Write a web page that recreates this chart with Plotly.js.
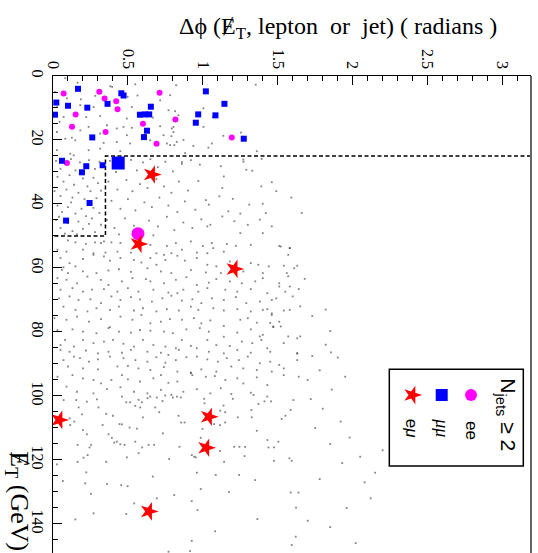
<!DOCTYPE html>
<html>
<head>
<meta charset="utf-8">
<script src="https://cdn.plot.ly/plotly-3.0.1.min.js"></script>
<style>html,body{margin:0;padding:0;background:#fff;}#chart{width:538px;height:553px;}</style>
</head>
<body>
<div id="chart"></div>
<script>
// ---- Data: delta-phi (radians) vs missing ET (GeV) ----
// Selected candidate events
var eeDphi = [0.071,0.309,0.344,0.422,0.431,0.711,0.151,0.127,0.351,0.600,0.817,0.691,0.093,1.193];
var eeMet  = [5.5,4.9,7.0,7.9,10.4,5.2,12.0,15.9,17.5,14.9,13.6,21.2,27.2,19.2];
var mumuDphi = [0.167,0.022,0.013,0.100,0.229,0.364,0.456,0.471,0.653,0.580,0.613,0.642,0.627,0.607,0.262,1.020,1.144,0.969,1.084,0.953,1.273,0.060,0.222,0.193,0.331,0.244,0.087];
var mumuMet  = [4.0,8.3,12.1,9.3,9.9,8.7,5.4,6.1,9.6,12.1,12.0,12.0,17.1,19.1,19.2,4.8,8.7,12.0,12.3,14.6,19.6,26.5,28.2,30.1,27.9,39.7,45.2];
var emuDphi = [0.660,0.571,1.211,0.042,1.040,1.022,0.640];
var emuMet  = [30.8,52.5,60.3,107.5,106.5,116.2,136.1];
// highlighted events (large markers)
var eeBigDphi = [0.567], eeBigMet = [49.3];
var mumuBigDphi = [0.435], mumuBigMet = [27.2];
// cut boundaries
var cutMetLow = 25, cutMetHigh = 50, cutDphi = 0.35;
// axis ticks
var dphiTicks = [0,0.5,1,1.5,2,2.5,3];
var dphiTickText = ['0','0.5','1','1.5','2','2.5','3'];
var metTicks = [0,20,40,60,80,100,120,140];
var metTickText = ['0','20','40','60','80','100','120','140'];

// Expected background (small dots), [dphi, MET]
var bgLowMet = [[0.082,0.7],[0.164,2.1],[0.382,3.2],[0.395,3.4],[0.549,2.6],[0.822,2.9],[0.015,5.0],[0.093,7.0],[0.186,7.3],[0.282,6.2],[0.498,6.5],[0.564,6.1],[0.715,7.6],[0.782,6.0],[0.026,9.7],[0.182,9.1],[0.271,9.7],[0.526,9.7],[0.771,10.7],[0.815,11.0],[0.071,12.8],[0.222,12.8],[0.315,12.5],[0.493,13.3],[0.666,13.0],[0.044,14.3],[0.238,15.9],[0.360,15.4],[0.426,16.4],[0.471,15.9],[0.526,16.2],[0.715,15.7],[0.793,16.4],[0.026,17.5],[0.182,17.0],[0.315,18.0],[0.493,18.5],[0.738,18.5],[0.804,17.5],[0.082,19.6],[0.126,19.3],[0.149,20.1],[0.338,20.9],[0.426,20.6],[0.515,21.1],[0.649,20.1],[0.760,21.1],[0.826,20.6],[0.026,23.2],[0.115,24.3],[0.138,24.8],[0.238,23.2],[0.315,22.7],[0.449,23.5],[0.782,21.6],[1.353,2.7],[1.004,10.1],[0.837,12.3],[1.067,12.8],[1.004,15.9],[0.804,15.9],[0.79,18.8],[0.871,20.0],[0.81,21.6],[1.06,21.1],[1.137,18.7],[1.255,17.7],[0.937,21.9],[1.037,22.4],[0.882,24.1],[1.36,23.5]];
var bgMidMet = [[0.02,26.5],[0.05,29],[0.08,27.5],[0.12,26],[0.15,29.5],[0.18,27],[0.24,26.3],[0.28,29],[0.31,26.8],[0.03,31.5],[0.07,33],[0.11,31],[0.14,34],[0.2,32],[0.23,34.5],[0.27,31.8],[0.3,33.5],[0.01,36],[0.05,37.5],[0.09,35.5],[0.13,38],[0.17,36.5],[0.21,38.5],[0.25,36],[0.29,38.2],[0.32,35.8],[0.03,40.5],[0.06,42.5],[0.1,41],[0.15,43],[0.19,41.5],[0.22,43.8],[0.27,41.2],[0.31,42.8],[0.02,45],[0.05,47.5],[0.1,46],[0.13,48.5],[0.17,45.5],[0.2,47.8],[0.24,46.2],[0.28,48.8],[0.32,46.5],[0.08,49.3],[0.16,49.5],[0.26,44.5],[0.12,39.5],[0.04,44],
[0.38,26.5],[0.42,30],[0.47,27.8],[0.52,26.2],[0.56,29.5],[0.6,27],[0.65,26],[0.7,28.5],[0.75,26.8],[0.8,29.8],[0.86,27.5],[0.92,26.3],[0.37,33],[0.43,35.5],[0.49,32.5],[0.53,36],[0.58,33.8],[0.63,35],[0.69,32.2],[0.74,34.5],[0.79,36.5],[0.84,33],[0.9,35.8],[0.97,32.8],[0.39,39],[0.45,41.5],[0.5,38.5],[0.55,42],[0.61,39.5],[0.66,41],[0.71,38],[0.77,40.5],[0.83,42.5],[0.88,39.2],[0.95,41.8],[1.02,38.8],[0.36,45],[0.41,47.5],[0.48,44.5],[0.54,46.8],[0.59,48.5],[0.64,45.2],[0.7,47],[0.76,44],[0.81,48.2],[0.87,45.8],[0.93,47.5],[0.99,44.8],[1.05,46.5],[0.44,49.5],[0.67,49.8],
[0.98,27.7],[1.12,28.2],[1.27,26.1],[1.29,29.3],[1.33,29.6],[1.14,31.4],[1.39,34.5],[1.46,33.2],[1.49,36],[1.59,38],[1.66,42.8],[1.31,40.2],[1.4,39.9],[1.42,42.8],[1.25,43],[1.17,42.3],[1.21,45.4],[1.3,46.5],[1.38,44.9],[1.46,47],[1.4,49.1],[1.25,49.1],[1.13,43.9],[1.11,37.6],[1.2,38.4],[1.13,35],[1.04,40.2],[1.03,47],[0.86,26.9],[1.271,26.8],[1.393,25.9]];
var bgHighMet = [[0.10,51.4],[0.15,52.0],[0.22,52.5],[0.28,52.0],[0.32,52.2],[0.34,51.7],[0.39,52.0],[0.45,52.2],[0.65,52.8],[0.76,53.1],[0.82,52.2],[0.92,51.7],[1.00,53.1],[1.06,52.2],[1.16,52.5],[1.22,53.1],[1.32,52.8],[1.51,53.1],[1.58,53.8],[0.03,54.3],[0.09,54.9],[0.20,54.3],[0.27,55.4],[0.35,55.2],[0.43,54.9],[0.52,55.2],[0.69,55.4],[0.74,55.9],[0.79,55.4],[0.86,54.3],[0.96,55.2],[1.03,55.4],[1.14,54.9],[1.57,55.9],
[0.05,56.9],[0.11,58.5],[0.15,59.5],[0.20,57.2],[0.27,55.9],[0.34,56.4],[0.38,57.7],[0.45,56.9],[0.54,57.5],[0.59,58.3],[0.65,56.9],[0.69,59.0],[0.75,57.5],[0.83,56.2],[0.88,57.7],[0.96,56.9],[1.03,59.0],[1.09,59.5],[1.18,58.0],[1.32,58.5],[1.37,59.0],[1.44,59.5],[1.54,59.3],[1.61,60.1],[0.06,60.6],[0.10,61.6],[0.20,61.1],[0.29,61.6],[0.37,60.8],[0.44,60.4],[0.52,61.2],[0.63,60.1],[0.72,61.1],[0.79,61.6],[0.92,60.6],[1.02,61.4],[1.12,61.6],[1.27,61.1],[1.40,61.6],[1.56,61.6],[0.07,59.8],
[0.03,63.2],[0.09,63.7],[0.16,64.8],[0.23,62.7],[0.32,63.7],[0.37,65.3],[0.46,64.2],[0.53,63.2],[0.62,63.5],[0.65,64.2],[0.74,64.8],[0.82,63.7],[0.89,62.9],[0.96,65.3],[1.04,64.6],[1.09,63.5],[1.18,64.2],[1.26,64.8],[1.35,64.2],[1.40,63.2],[1.51,64.8],[1.58,65.8],[0.05,66.8],[0.13,66.3],[0.20,67.4],[0.26,66.8],[0.34,66.6],[0.43,67.4],[0.50,66.3],[0.57,67.4],[0.67,66.8],[0.77,67.7],[0.83,67.9],[0.87,66.8],[0.97,67.4],[1.03,66.3],[1.15,66.8],[1.23,67.4],[1.32,66.6],[1.43,67.9],[1.55,67.4],[1.64,66.6],
[0.04,69.5],[0.11,68.9],[0.17,70.0],[0.25,69.8],[0.32,71.0],[0.39,68.9],[0.45,70.0],[0.52,69.1],[0.58,69.8],[0.66,70.5],[0.73,69.5],[0.79,68.7],[0.86,70.2],[0.93,69.8],[0.99,71.0],[1.06,69.5],[1.14,70.0],[1.22,69.1],[1.29,71.0],[1.38,70.5],[1.49,69.5],[1.60,68.9],[0.07,72.1],[0.15,73.1],[0.23,73.6],[0.29,72.6],[0.38,73.1],[0.44,72.1],[0.54,73.3],[0.60,72.6],[0.69,73.6],[0.76,72.9],[0.84,73.3],[0.92,72.1],[0.97,73.1],[1.07,72.6],[1.14,73.3],[1.23,72.9],[1.32,73.6],[1.40,73.1],[1.46,74.2],[1.54,73.3],
[0.01,75.7],[0.09,76.2],[0.16,75.2],[0.24,76.8],[0.32,76.0],[0.38,78.5],[0.45,75.2],[0.53,76.2],[0.59,74.7],[0.65,77.3],[0.72,76.8],[0.78,76.0],[0.86,76.2],[0.94,75.7],[0.99,77.3],[1.05,76.4],[1.14,78.1],[1.25,76.2],[1.30,75.7],[1.36,77.1],[1.46,74.7],[1.51,76.8],[0.03,79.4],[0.13,79.2],[0.20,79.9],[0.29,80.4],[0.37,78.8],[0.44,79.9],[0.52,80.2],[0.58,79.4],[0.65,79.6],[0.74,79.9],[0.80,80.4],[0.89,79.2],[0.98,78.8],[1.04,79.9],[1.14,81.5],[1.23,80.2],[1.32,79.2],[1.40,80.9],[1.47,78.5],[1.63,82.0],
[0.05,84.1],[0.08,82.5],[0.14,84.6],[0.20,82.5],[0.27,83.5],[0.34,83.0],[0.40,82.5],[0.47,83.7],[0.54,84.6],[0.60,82.5],[0.67,84.1],[0.75,84.6],[0.82,85.1],[0.86,82.5],[0.92,84.4],[0.96,85.1],[1.03,82.5],[1.09,84.1],[1.18,84.4],[1.26,83.0],[1.33,83.5],[1.39,82.5],[1.43,85.1],[1.54,83.5],[0.05,85.6],[0.11,86.2],[0.22,85.8],[0.30,86.7],[0.37,86.2],[0.46,86.5],[0.52,85.6],[0.63,86.2],[0.72,86.5],[0.77,87.2],[0.84,85.6],[1.04,86.2],[1.14,86.7],[1.23,85.6],[1.32,86.5],[1.45,86.2],[1.63,86.7],
[0.07,88.8],[0.14,87.7],[0.18,88.2],[0.24,89.3],[0.30,88.6],[0.38,87.7],[0.47,88.2],[0.55,88.8],[0.63,89.3],[0.69,87.9],[0.75,89.6],[0.82,88.8],[0.89,87.9],[0.96,87.7],[1.03,88.6],[1.10,89.3],[1.16,88.2],[1.24,88.8],[1.30,87.7],[1.38,89.8],[1.45,89.3],[1.51,90.3],[1.63,88.8],[0.10,90.8],[0.20,91.4],[0.30,91.7],[0.43,90.8],[0.50,90.6],[0.57,91.4],[0.65,91.9],[0.74,91.0],[0.83,92.4],[0.92,92.7],[0.99,91.7],[1.09,92.4],[1.19,90.8],[1.27,91.4],[1.36,91.9],[1.46,92.4],[1.54,91.4],
[0.03,94.0],[0.13,93.5],[0.20,94.5],[0.27,95.0],[0.32,96.1],[0.39,95.0],[0.46,93.5],[0.50,94.8],[0.58,95.5],[0.67,94.5],[0.72,93.5],[0.77,95.9],[0.83,95.5],[0.92,92.9],[0.93,93.5],[1.02,94.0],[1.08,93.8],[1.15,95.0],[1.23,94.5],[1.27,96.1],[1.36,94.2],[1.43,96.6],[1.54,93.5],[1.64,94.0],[0.09,97.1],[0.16,98.7],[0.27,99.2],[0.36,97.9],[0.45,97.3],[0.54,98.7],[0.63,99.2],[0.72,98.1],[0.79,99.7],[0.87,98.7],[0.96,97.9],[1.05,99.2],[1.12,97.6],[1.19,99.4],[1.32,99.0],[1.43,100.2],
[1.07,53.8],[1.52,53.3],[1.58,53.8],[1.63,59.3],[1.68,63.4],[1.57,62.6],[1.82,73],[1.73,75],[1.85,79.7],[1.855,86.4],[1.73,87.5],[1.63,86.7],[1.65,81.4],[1.57,81.4],[1.52,78.3],[1.47,78.3],[1.38,81.4],[1.46,70],[1.51,65.8],[1.65,72],[1.58,73.1],[1.43,72.9],[1.45,77.2]];
var bgTailMet = [[0.071,101.3],[0.155,101.3],[0.226,101.8],[0.293,101.1],[0.46,100.2],[0.489,102.0],[0.515,102.0],[0.571,101.2],[0.593,102.0],[0.631,100.7],[0.649,100.2],[0.693,100.5],[0.731,101.6],[0.749,99.9],[0.8,100.5],[0.827,100.2],[0.853,100.5],[1.009,100.9],[1.011,102.3],[1.2,100.9],[1.338,99.7],[1.371,102.5],[1.411,101.7],[1.455,101.7],[1.604,101.3],[0.171,103.6],[0.304,103.6],[0.549,103.1],[0.582,103.6],[0.682,103.6],[1.138,103.0],[0.193,105.8],[0.355,105.6],[0.4,106.2],[0.6,106.7],[0.709,105.1],[0.838,106.2],[1.116,104.6],[1.149,105.1],[1.233,106.7],[1.324,104.4],[1.326,106.7],[1.551,106.2],[1.586,104.4],[0.111,107.0],[0.142,108.0],[0.115,109.1],[0.331,109.1],[0.444,108.8],[0.46,108.9],[0.855,108.3],[0.878,108.3],[1.075,108.8],[1.115,109.1],[1.149,108.3],[1.526,107.2],[0.2,110.7],[0.511,109.9],[0.56,110.2],[0.998,110.3],[1.36,110.9],[0.226,112.0],[0.371,112.0],[0.733,111.7],[0.393,113.1],[0.164,115.3],[0.244,116.1],[0.255,115.3],[0.409,114.6],[0.426,114.3],[0.449,115.1],[0.478,115.3],[0.549,114.3],[0.595,116.1],[0.638,115.3],[0.675,115.3],[0.844,115.9],[0.986,113.1],[1.209,115.9],[1.244,115.9],[1.282,115.9],[1.431,113.8],[1.438,116.1],[1.475,116.1],[1.504,114.3],[0.571,117.9],[1.115,117.2],[0.926,118.5],[0.942,119.0],[0.953,119.2],[1.278,118.8],[0.204,119.3],[0.231,118.5],[0.355,120.6],[0.493,119.2],[0.775,119.7],[1.475,120.3],[1.578,119.5],[1.593,120.3],[0.164,120.6],[0.026,121.4],[1.142,120.6],[0.222,123.9],[0.96,124.0],[1.086,124.7],[1.242,124.7],[0.666,125.2],[1.349,126.3],[0.066,126.6],[0.215,127.3],[0.36,127.6],[0.455,127.9],[0.498,128.2],[0.986,129.1],[1.586,130.2],[1.638,130.2],[1.175,130.0],[0.253,130.6],[0.809,131.0],[0.693,132.0],[0.926,132.9],[0.542,133.6],[1.622,134.9],[0.964,135.7],[0.271,136.7],[0.489,136.9],[1.364,138.5],[0.149,138.6],[1.082,142.3],[0.926,145.3],[1.593,146.6],[0.771,148.7],[0.915,148.5],
[1.70,95],[1.78,92],[1.72,101],[1.86,98],[1.80,104],[1.92,108],[1.75,110],[1.98,113],[1.85,115],[2.05,119],[1.93,121],[2.15,124],[2.08,127],[1.78,126],[2.12,132],[1.96,135],[1.70,139],[1.85,141],[1.62,144],[2.02,146],[2.2,117],[1.9,88],[1.95,94],[1.82,84]];

var bgAll = bgLowMet.concat(bgMidMet, bgHighMet, bgTailMet);
var bgDphi = bgAll.map(function(p){return p[0];});
var bgMet = bgAll.map(function(p){return p[1];});

var SERIF = 'Liberation Serif';
var SANS = 'Liberation Sans';

var traces = [
  {x: bgDphi, y: bgMet, type: 'scatter', mode: 'markers', hoverinfo: 'skip',
   marker: {symbol: 'square', size: 1.8, color: 'rgba(30,30,30,0.55)', line: {width: 0}}},
  {x: [3.19, cutDphi, cutDphi, 0], y: [cutMetLow, cutMetLow, cutMetHigh, cutMetHigh], type: 'scatter', mode: 'lines',
   line: {color: '#000', width: 1.5, dash: '4px,2.5px'}, hoverinfo: 'skip'},
  {x: eeDphi, y: eeMet, type: 'scatter', mode: 'markers', marker: {symbol: 'circle', size: 6, color: '#ff00ff', line: {width: 0}}},
  {x: mumuDphi, y: mumuMet, type: 'scatter', mode: 'markers', marker: {symbol: 'square', size: 6, color: '#0000ff', line: {width: 0}}},
  {x: eeBigDphi, y: eeBigMet, type: 'scatter', mode: 'markers', marker: {symbol: 'circle', size: 13, color: '#ff00ff', line: {width: 0}}},
  {x: mumuBigDphi, y: mumuBigMet, type: 'scatter', mode: 'markers', marker: {symbol: 'square', size: 13, color: '#0000ff', line: {width: 0}}},
  {x: emuDphi, y: emuMet, type: 'scatter', mode: 'markers', marker: {symbol: 'star', size: 14, angle: 90, color: '#ff0000', line: {width: 0}}},
  // legend samples (on a unit overlay axis)
  {x: [0.8745], y: [0.3312], xaxis: 'x2', yaxis: 'y2', type: 'scatter', mode: 'markers', marker: {symbol: 'circle', size: 12, color: '#ff00ff'}},
  {x: [0.8132], y: [0.3312], xaxis: 'x2', yaxis: 'y2', type: 'scatter', mode: 'markers', marker: {symbol: 'square', size: 12, color: '#0000ff'}},
  {x: [0.7517], y: [0.3312], xaxis: 'x2', yaxis: 'y2', type: 'scatter', mode: 'markers', marker: {symbol: 'star', size: 14, angle: 90, color: '#ff0000'}}
];

var layout = {
  width: 538, height: 553,
  margin: {l: 53, r: 7, t: 76, b: 0, pad: 0},
  paper_bgcolor: '#fff', plot_bgcolor: '#fff',
  font: {family: SERIF, color: '#000'},
  showlegend: false, hovermode: false,
  xaxis: {
    side: 'top', range: [0, 3.19], tickmode: 'array', tickvals: dphiTicks, ticktext: dphiTickText,
    ticks: 'inside', ticklen: 9, tickwidth: 1, tickcolor: '#000',
    minor: {dtick: 0.1, tick0: 0, ticks: 'inside', ticklen: 5, tickwidth: 1, tickcolor: '#000', showgrid: false},
    showline: true, linecolor: '#000', linewidth: 1.5, mirror: false,
    showgrid: false, zeroline: false, tickangle: 90,
    tickfont: {family: SERIF, size: 16, color: '#000'}
  },
  yaxis: {
    range: [149.1, 0], tickmode: 'array', tickvals: metTicks, ticktext: metTickText,
    ticks: 'inside', ticklen: 9, tickwidth: 1, tickcolor: '#000',
    minor: {dtick: 5, tick0: 0, ticks: 'inside', ticklen: 5, tickwidth: 1, tickcolor: '#000', showgrid: false},
    showline: true, linecolor: '#000', linewidth: 1.5,
    showgrid: false, zeroline: false, tickangle: 90,
    tickfont: {family: SERIF, size: 16, color: '#000'}
  },
  xaxis2: {overlaying: 'x', range: [0, 1], visible: false, fixedrange: true},
  yaxis2: {overlaying: 'y', range: [0, 1], visible: false, fixedrange: true},
  shapes: [
    {type: 'line', xref: 'paper', yref: 'paper', x0: 1, x1: 1, y0: 0, y1: 1, line: {color: '#666', width: 2}},
    {type: 'rect', xref: 'paper', yref: 'paper', x0: 0.7036, x1: 0.9839, y0: 0.1824, y1: 0.3851, line: {color: '#000', width: 1.5}, fillcolor: 'rgba(0,0,0,0)'}
  ],
  annotations: [
    {text: '\u0394\u03d5 (\u0246<sub>T</sub>, lepton\u00a0 or\u00a0 jet) ( radians )', xref: 'paper', yref: 'paper', x: 0.597, y: 1.1006,
     xanchor: 'center', yanchor: 'middle', showarrow: false, font: {family: SERIF, size: 24, color: '#000'}},
    {text: '\u0246<sub>T</sub> (GeV)', xref: 'paper', yref: 'paper', x: -0.075, y: 0.108, textangle: 90,
     xanchor: 'center', yanchor: 'middle', showarrow: false, font: {family: SERIF, size: 26, color: '#000'}},
    {text: 'N<sub>jets</sub> \u2265 2', xref: 'paper', yref: 'paper', x: 0.9492, y: 0.2893, textangle: 90,
     xanchor: 'center', yanchor: 'middle', showarrow: false, font: {family: SANS, size: 21, color: '#000'}},
    {text: 'ee', xref: 'paper', yref: 'paper', x: 0.8745, y: 0.2579, textangle: 90,
     xanchor: 'center', yanchor: 'middle', showarrow: false, font: {family: SANS, size: 17, color: '#000'}},
    {text: '<i>\u03bc\u03bc</i>', xref: 'paper', yref: 'paper', x: 0.8132, y: 0.262, textangle: 90,
     xanchor: 'center', yanchor: 'middle', showarrow: false, font: {family: SERIF, size: 18, color: '#000'}},
    {text: 'e<i>\u03bc</i>', xref: 'paper', yref: 'paper', x: 0.7517, y: 0.262, textangle: 90,
     xanchor: 'center', yanchor: 'middle', showarrow: false, font: {family: SANS, size: 17, color: '#000'}}
  ]
};

Plotly.newPlot('chart', traces, layout, {staticPlot: true, displayModeBar: false});
</script>
</body>
</html>
